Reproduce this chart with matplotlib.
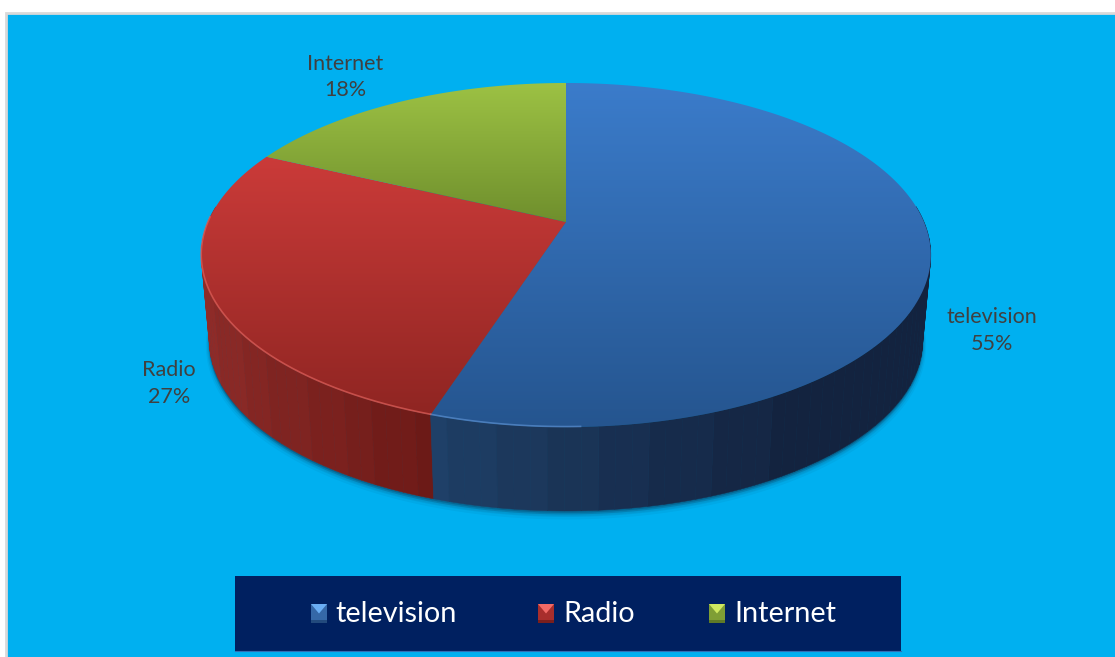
import numpy as np
import matplotlib
matplotlib.use("Agg")
import matplotlib.pyplot as plt
from matplotlib.patches import Polygon, Rectangle
from matplotlib.colors import LinearSegmentedColormap, to_rgb

plt.rcParams['font.family'] = ['Lato', 'DejaVu Sans']

categories = ["television", "Radio", "Internet"]
shares = [55, 27, 18]

top_light = ["#3b7ccb", "#cb3b39", "#9dc244"]
top_dark = ["#25558f", "#8f2522", "#6f8f2d"]
side_left = ["#1f4068", "#8e2b28", "#6f8f2d"]
side_right = ["#13233f", "#6c1a17", "#56701f"]
rim_colors = ["#5b8fd0", "#e0605a", "#b5d060"]
key_tip = ["#6aaef5", "#f26a66", "#cfe860"]
key_body = ["#3568a8", "#a82e2c", "#7f9e35"]
key_base = ["#234a7d", "#7a1f1d", "#5f7a27"]

BG = "#00b0f0"
PANEL = "#002060"
LABEL = "#404040"

fig = plt.figure(figsize=(11.15, 6.57), dpi=100, facecolor="white")
ax = fig.add_axes([0, 0, 1, 1])
ax.set_xlim(0, 1115)
ax.set_ylim(657, 0)
ax.axis("off")

ax.add_patch(Rectangle((6, 13), 1120, 660, fc=BG, ec="#d9d9d9", lw=2, zorder=0))


def project(theta, half_w, half_h, cy, tilt=0.192, cx=566.0):
    """Perspective projection of a disc; theta runs clockwise from the far point."""
    u = np.sin(theta)
    v = -np.cos(theta)
    d = 1 - tilt * v
    return cx + half_w * u / d, cy + half_h * v / d


def rim(theta):
    return project(theta, 358.0, 165.7, 222.0)


def base(theta):
    return project(theta, 350.0, 164.0, 308.0)


fractions = np.cumsum([0] + shares) / sum(shares)
edges = 2 * np.pi * fractions

# soft shadow under the disc
all_t = np.linspace(0, 2 * np.pi, 721)
bx, by = base(all_t)
for grow, alpha in ((5, 0.06), (3.5, 0.10), (2, 0.16), (1, 0.22)):
    ax.fill(bx, by + grow, color="#0b3a5a", alpha=alpha, lw=grow, zorder=1)

# side wall: vertical bands, near half only since the far half sits behind the top
bands = []
for i in range(3):
    ts = np.linspace(edges[i], edges[i + 1], int(shares[i] * 1.6) + 2)
    for a, b in zip(ts[:-1], ts[1:]):
        if np.cos((a + b) / 2) < 0.1:
            bands.append((i, a, b))
bands.sort(key=lambda s: -np.cos((s[1] + s[2]) / 2))
for i, a, b in bands:
    fine = np.linspace(a, b, 8)
    tx, ty = rim(fine)
    qx, qy = base(fine)
    pts = np.column_stack([np.r_[tx, qx[::-1]], np.r_[ty, qy[::-1]]])
    if i == 0:
        mid = np.clip((tx.mean() - 432) / (800 - 432), 0, 1) ** 0.9
    else:
        mid = np.clip((tx.mean() - 205) / (435 - 205), 0, 1) ** 0.8
    # stepped shading gives the faceted look of the wall
    mid = np.round(mid * 7) / 7
    c = (1 - mid) * np.array(to_rgb(side_left[i])) + mid * np.array(to_rgb(side_right[i]))
    ax.add_patch(Polygon(pts, closed=True, fc=c, ec=c, lw=0.4, zorder=2))

# top face: apex at the projected disc centre, vertical gradient per slice
apex = (566.0, 222.0)
for i in range(3):
    ts = np.linspace(edges[i], edges[i + 1], 240)
    ex, ey = rim(ts)
    poly = Polygon(np.column_stack([np.r_[apex[0], ex], np.r_[apex[1], ey]]),
                   closed=True, fc="none", ec="none", zorder=3)
    ax.add_patch(poly)
    cmap = LinearSegmentedColormap.from_list(f"face{i}", [top_light[i], top_dark[i]])
    grad = np.linspace(0, 1, 256).reshape(-1, 1)
    y0 = min(ey.min(), apex[1])
    y1 = max(ey.max(), apex[1])
    im = ax.imshow(grad, extent=(190, 940, y1, y0), cmap=cmap, aspect="auto",
                   zorder=3, interpolation="bilinear")
    im.set_clip_path(poly)

    # lit lip along the near-left edge of the disc
    deg = np.degrees(ts)
    lit = (deg > 178) & (deg < 272)
    ax.plot(ex[lit], ey[lit] - 0.5, color=rim_colors[i], lw=1.2, alpha=0.7, zorder=4)

ax.set_xlim(0, 1115)
ax.set_ylim(657, 0)

# data labels
label_pos = [(992, 330.5), (169, 383.5), (345, 77)]
for name, value, (lx, ly) in zip(categories, shares, label_pos):
    ax.text(lx, ly, f"{name}\n{value}%", ha="center", va="center", color=LABEL,
            fontsize=15.5, linespacing=1.42, zorder=6)

# legend panel
ax.add_patch(Rectangle((234.5, 576), 666.5, 74.5, fc=PANEL, ec="none", zorder=5))
ax.plot([234.5, 901], [650.5, 650.5], color="#2f6fb5", lw=0.8, zorder=5)

legend_keys = [311, 538, 709]
legend_text = [335.5, 563.5, 734.5]


def bevel_key(x, y, w, h, tip, body, foot):
    cx = x + w / 2
    ax.add_patch(Rectangle((x, y), w, h, fc=body, ec="none", zorder=6))
    ax.add_patch(Rectangle((x, y + h * 0.82), w, h * 0.18, fc=foot, ec="none", zorder=7))
    ax.add_patch(Polygon([(x, y), (x + w, y), (cx, y + h * 0.5)], closed=True,
                         fc=tip, ec="none", zorder=7))


for i, name in enumerate(categories):
    bevel_key(legend_keys[i], 604, 16, 19, key_tip[i], key_body[i], key_base[i])
    ax.text(legend_text[i], 613.5, name, ha="left", va="center", color="white",
            fontsize=20.8, zorder=7)

fig.savefig("out.png", dpi=100, facecolor="white")
